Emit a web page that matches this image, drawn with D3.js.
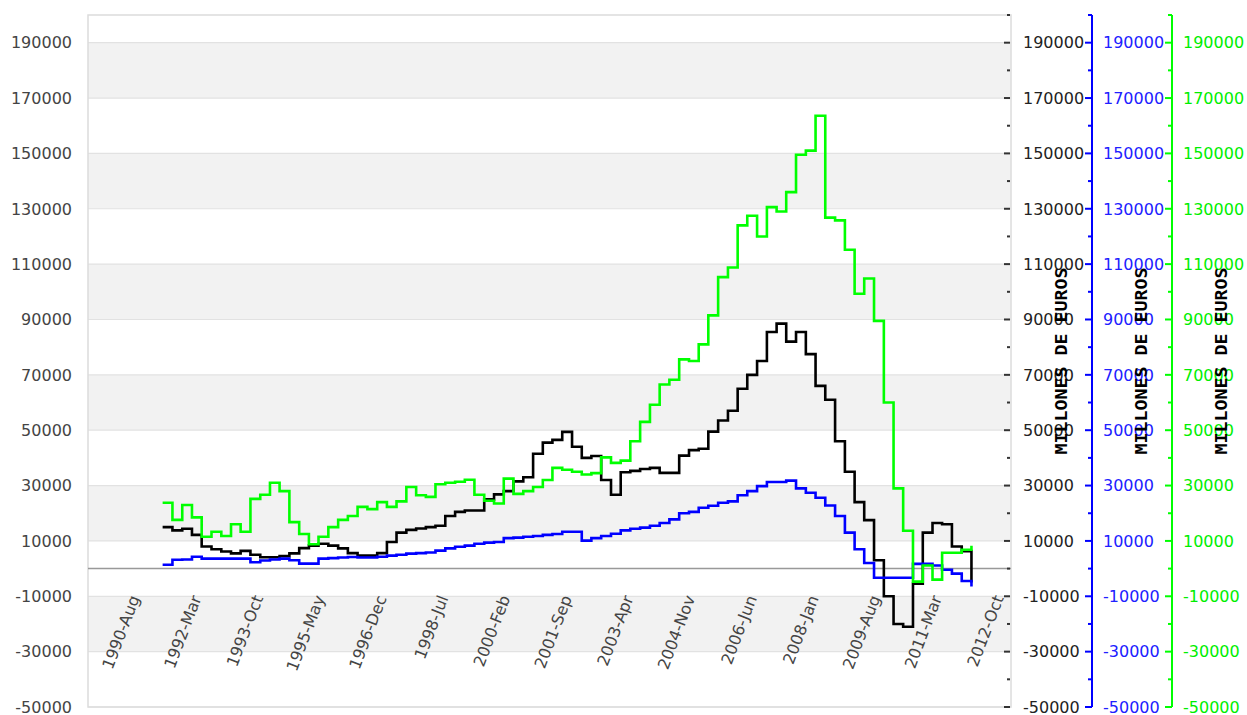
<!DOCTYPE html>
<html lang="es">
<head>
<meta charset="UTF-8" />
<title>Millones de euros</title>
<script src="https://d3js.org/d3.v7.min.js"></script>
<style>
  body { margin: 0; background: #fff; }
  text { font-family: "DejaVu Sans", sans-serif; font-size: 16px; }
  .axis-title { font-family: "DejaVu Sans Mono", monospace; font-weight: bold; font-size: 15px; fill: #000; }
</style>
</head>
<body>
<div id="chart"></div>
<script>
// ---- data (quarterly readings, first sample 1991-Mar) ----
const xTickLabels = ["1990-Aug", "1992-Mar", "1993-Oct", "1995-May", "1996-Dec", "1998-Jul",
  "2000-Feb", "2001-Sep", "2003-Apr", "2004-Nov", "2006-Jun", "2008-Jan", "2009-Aug",
  "2011-Mar", "2012-Oct"];
const yTicks = [-50000, -30000, -10000, 10000, 30000, 50000, 70000, 90000, 110000,
  130000, 150000, 170000, 190000];
const yMinorTicks = [-40000, -20000, 0, 20000, 40000, 60000, 80000, 100000, 120000,
  140000, 160000, 180000, 200000];

const blackSeries = [
  15000, 13800, 14400, 12200, 8000, 7000, 6200, 5500, 6400, 5000,
  4100, 4100, 4500, 5500, 7400, 8300, 9000, 8300, 7300, 5600,
  4700, 4700, 5600, 9600, 13000, 14000, 14500, 15000, 15500, 19000,
  20500, 21000, 21000, 25000, 26800, 28000, 31500, 33000, 41500, 45500,
  46500, 49400, 44000, 40000, 40700, 32000, 26700, 34800, 35300, 36000,
  36400, 34600, 34600, 40800, 42800, 43300, 49500, 53500, 57000, 65000,
  70000, 75000, 85500, 88500, 82000, 85500, 77500, 66000, 61000, 46000,
  35000, 24000, 17500, 3000, -10000, -20000, -21000, -5500, 13000, 16500,
  16000, 8000, 6300, -5000];

const blueSeries = [
  1400, 3200, 3300, 4300, 3600, 3600, 3600, 3600, 3600, 2300,
  2900, 3300, 3600, 3000, 1800, 1800, 3600, 3800, 4000, 4200,
  4000, 4000, 4300, 4700, 5000, 5400, 5600, 5800, 6500, 7300,
  7900, 8300, 9000, 9400, 9600, 11000, 11200, 11500, 11800, 12200,
  12500, 13300, 13300, 10100, 11000, 11800, 12600, 13800, 14400, 14800,
  15500, 16500, 17800, 20000, 20500, 22000, 22700, 23800, 24300, 26500,
  28000, 29800, 31300, 31300, 31800, 29000, 27400, 25600, 22800, 19000,
  13000, 7000, 2000, -3300, -3300, -3300, -3300, 1700, 1700, 1100,
  -400, -1800, -4500, -6500];

const greenSeries = [
  23800, 17600, 23000, 18500, 11500, 13300, 11800, 16000, 13300, 25200,
  26700, 31000, 28000, 16800, 12500, 8800, 11500, 15000, 17600, 19000,
  22300, 21500, 24000, 22300, 24300, 29500, 26500, 25900, 30500, 31000,
  31400, 32100, 26700, 24500, 23500, 32500, 27000, 28000, 29500, 32000,
  36400, 35700, 35000, 34000, 34500, 40200, 38200, 39000, 46000, 53000,
  59200, 66500, 68200, 75600, 75000, 81000, 91500, 105300, 108800, 124000,
  127500, 120000, 130600, 129000, 136000, 149500, 151000, 163600, 126800, 125800,
  115200, 99300, 104800, 89500, 60000, 29000, 13700, -4700, 1100, -4000,
  5700, 5700, 6800, 8300];

const axisTitle = "MILLONES DE EUROS";

// quarterly sample dates
const dates = d3.timeMonth.range(new Date(1991, 2, 1), new Date(2012, 0, 1), 3);

// ---- layout ----
const width = 1247, height = 715;
const plotLeft = 88, plotRight = 1011, plotTop = 15, plotBottom = 707;

const parseTick = d3.timeParse("%Y-%b");

const x = d3.scaleTime()
  .domain([parseTick(xTickLabels[0]), parseTick(xTickLabels[xTickLabels.length - 1])])
  .range([140, 1004]);

const y = d3.scaleLinear()
  .domain([-50000, 200000])
  .range([plotBottom, plotTop]);

const svg = d3.select("#chart").append("svg")
  .attr("width", width)
  .attr("height", height);

// alternating bands
const bandStarts = yTicks.filter((d, i) => i % 2 === 1);
svg.append("g").selectAll("rect")
  .data(bandStarts)
  .join("rect")
  .attr("x", plotLeft)
  .attr("width", plotRight - plotLeft)
  .attr("y", d => y(d + 20000))
  .attr("height", d => y(d) - y(d + 20000))
  .attr("fill", "#f2f2f2");

// grid lines
svg.append("g").selectAll("line")
  .data(yTicks)
  .join("line")
  .attr("x1", plotLeft).attr("x2", plotRight)
  .attr("y1", d => y(d)).attr("y2", d => y(d))
  .attr("stroke", "#e2e2e2")
  .attr("stroke-width", 1.2);

// plot frame
svg.append("rect")
  .attr("x", plotLeft).attr("y", plotTop)
  .attr("width", plotRight - plotLeft)
  .attr("height", plotBottom - plotTop)
  .attr("fill", "none")
  .attr("stroke", "#dcdcdc")
  .attr("stroke-width", 1.5);

// zero line
svg.append("line")
  .attr("x1", plotLeft).attr("x2", plotRight)
  .attr("y1", y(0)).attr("y2", y(0))
  .attr("stroke", "#999")
  .attr("stroke-width", 1.5);

// left axis labels
svg.append("g").selectAll("text")
  .data(yTicks)
  .join("text")
  .attr("x", 72)
  .attr("y", d => y(d))
  .attr("dy", "0.36em")
  .attr("text-anchor", "end")
  .attr("fill", "#444")
  .text(d => d);

// x labels (rotated, inside the plot)
svg.append("g").selectAll("text")
  .data(xTickLabels)
  .join("text")
  .attr("text-anchor", "end")
  .attr("fill", "#444")
  .attr("transform", d => `translate(${x(parseTick(d))},598) rotate(-69)`)
  .text(d => d);

// series lines
const line = d3.line()
  .x((d, i) => x(dates[i]))
  .y(d => y(d))
  .curve(d3.curveStepAfter);

[[blackSeries, "#000"], [blueSeries, "#0000ff"], [greenSeries, "#00ff00"]].forEach(([s, c]) => {
  svg.append("path")
    .datum(s)
    .attr("d", line)
    .attr("fill", "none")
    .attr("stroke", c)
    .attr("stroke-width", 2.6);
});

// right axes
function rightAxis(lineX, tickLen, minorLen, labelX, color, labelColor, titleX, drawLine) {
  const g = svg.append("g");
  if (drawLine) {
    g.append("line")
      .attr("x1", lineX).attr("x2", lineX)
      .attr("y1", plotTop).attr("y2", plotBottom)
      .attr("stroke", color).attr("stroke-width", 2);
  }
  g.selectAll(".major").data(yTicks).join("line")
    .attr("class", "major")
    .attr("x1", lineX - tickLen).attr("x2", lineX)
    .attr("y1", d => y(d)).attr("y2", d => y(d))
    .attr("stroke", color).attr("stroke-width", 2);
  g.selectAll(".minor").data(yMinorTicks).join("line")
    .attr("class", "minor")
    .attr("x1", lineX - minorLen).attr("x2", lineX)
    .attr("y1", d => y(d)).attr("y2", d => y(d))
    .attr("stroke", color).attr("stroke-width", 2);
  g.selectAll("text.lbl").data(yTicks).join("text")
    .attr("class", "lbl")
    .attr("x", labelX)
    .attr("y", d => y(d))
    .attr("dy", "0.36em")
    .attr("fill", labelColor)
    .text(d => d);
  // condensed-looking title, stretched along its length
  g.append("text")
    .attr("class", "axis-title")
    .attr("transform", `translate(${titleX},361) rotate(-90) scale(1.22,1)`)
    .attr("text-anchor", "middle")
    .text(axisTitle);
}

rightAxis(1010, 6, 3, 1023, "#333", "#222", 1067, false);
rightAxis(1092, 7, 4, 1103, "#0000ff", "#2020ff", 1147, true);
rightAxis(1172, 7, 4, 1183, "#00ff00", "#00ee00", 1227, true);
</script>
</body>
</html>
